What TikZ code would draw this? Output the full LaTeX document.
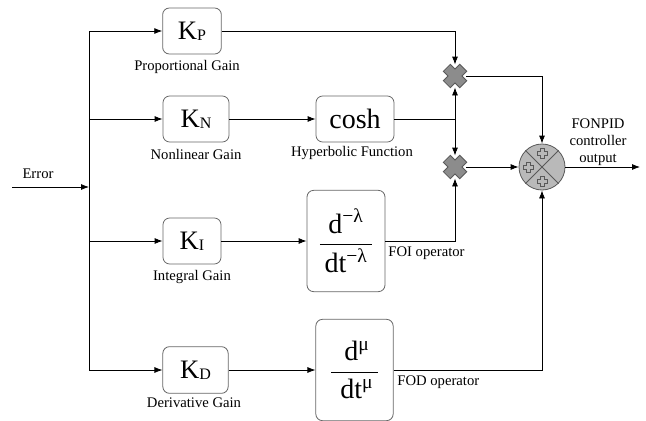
\documentclass[tikz,border=0pt]{standalone}
\usepackage{amsmath}
\usepackage{fontspec}
\setmainfont{Liberation Serif}
\usetikzlibrary{arrows.meta, calc, positioning}
\definecolor{boxGray}{gray}{0.4}
\definecolor{mulGray}{gray}{0.55}
\definecolor{mulEdge}{gray}{0.35}
\newcommand{\gainK}[1]{{\fontsize{20}{22}\selectfont K}{\fontsize{12}{12}\selectfont\raisebox{-1pt}{#1}}}
\newcommand{\opfrac}[2]{$\dfrac{\text{\,#1\,}}{\text{\,#2\,}}$}

\begin{document}
\begin{tikzpicture}[x=0.75pt, y=-0.75pt, >={Latex[length=6pt,width=4.5pt]}, line width=0.6pt,
    gain/.style={draw=boxGray, rounded corners=5pt, minimum height=34.5pt, inner sep=0pt},
    lbl/.style={font=\fontsize{11}{12}\selectfont, inner sep=0pt}]
    \useasboundingbox (0,0) rectangle (646,421);

    % gain blocks
    \node[gain, minimum width=44pt] (kp) at (192,31) {\gainK{P}};
    \node[gain, minimum width=49.5pt] (kn) at (196,119) {\gainK{N}};
    \node[gain, minimum width=58.5pt, font=\fontsize{21}{23}\selectfont] (cosh) at (355,119) {cosh};
    \node[gain, minimum width=43.5pt] (ki) at (192,241) {\gainK{I}};
    \node[gain, minimum width=58.5pt, minimum height=76pt, font=\fontsize{21}{23}\selectfont] (foi) at (346,241)
        {\opfrac{d\textsuperscript{−λ}}{dt\textsuperscript{−λ}}};
    \node[gain, minimum width=49pt, minimum height=35pt] (kd) at (195.5,370) {\gainK{D}};
    \node[gain, minimum width=58pt, minimum height=76pt, font=\fontsize{21}{23}\selectfont] (fod) at (354.5,370)
        {\opfrac{\,d\textsuperscript{μ}}{\,dt\textsuperscript{μ}}};

    % captions
    \node[lbl] (kplbl) at (187,67) {Proportional Gain};
    \node[lbl] (knlbl) at (196,154) {Nonlinear Gain};
    \node[lbl] (coshlbl) at (352,153) {Hyperbolic Function};
    \node[lbl] (kilbl) at (192,277) {Integral Gain};
    \node[lbl, anchor=west] (foilbl) at (388,253) {FOI operator};
    \node[lbl] (kdlbl) at (194,403) {Derivative Gain};
    \node[lbl, anchor=west] (fodlbl) at (397,382) {FOD operator};
    \node[lbl] (errlbl) at (38,174) {Error};
    \node[lbl, align=center, font=\fontsize{11}{12.8}\selectfont] (outlbl) at (598,142) {FONPID\\controller\\output};

    % multipliers and summing junction
    \node[circle, minimum size=16.5pt, inner sep=0pt] (m1) at (455,76) {};
    \node[circle, minimum size=16.5pt, inner sep=0pt] (m2) at (455,167) {};
    \foreach \m in {m1,m2} {
        \draw[line width=8pt, mulEdge] ($(\m)+(-8.5,-8.5)$) -- ($(\m)+(8.5,8.5)$);
        \draw[line width=8pt, mulEdge] ($(\m)+(-8.5,8.5)$) -- ($(\m)+(8.5,-8.5)$);
        \draw[line width=6.5pt, mulGray] ($(\m)+(-7.8,-7.8)$) -- ($(\m)+(7.8,7.8)$);
        \draw[line width=6.5pt, mulGray] ($(\m)+(-7.8,7.8)$) -- ($(\m)+(7.8,-7.8)$);
    }
    \node[circle, draw=mulEdge, fill=gray!55, minimum size=34.5pt, inner sep=0pt] (sum) at (542,167) {};
    \draw[mulEdge] (sum.north west) -- (sum.south east);
    \draw[mulEdge] (sum.south west) -- (sum.north east);
    \foreach \a in {90,180,270}
        \draw[mulEdge, line width=0.5pt, shift={($(sum.center)+(\a:14)$)}]
            (-2,-5) -- (2,-5) -- (2,-2) -- (5,-2) -- (5,2) -- (2,2) -- (2,5)
            -- (-2,5) -- (-2,2) -- (-5,2) -- (-5,-2) -- (-2,-2) -- cycle;

    % signal lines
    \coordinate (err) at (12,187);
    \coordinate (bustop) at (89,31);
    \coordinate (busbot) at (89,370);
    \coordinate (out) at (640,167);
    \draw (bustop) -- (busbot);
    \draw[->] (err) -- (err -| bustop);
    \foreach \b in {kp,kn,ki,kd}
        \draw[->] (bustop |- \b.west) -- (\b.west);
    \draw[->] (kn) -- (cosh);
    \draw[->] (ki) -- (foi);
    \draw[->] (kd) -- (fod);
    \draw[->] (kp.east) -| (m1.north);
    \coordinate (jn) at (m1 |- cosh.east);
    \draw (cosh.east) -- (jn);
    \draw[->] (jn) -- (m1.south);
    \draw[->] (jn) -- (m2.north);
    \draw[->] (foi.east) -| (m2.south);
    \draw[->] (m1.east) -| (sum.north);
    \draw[->] (m2.east) -- (sum.west);
    \draw[->] (fod.east) -| (sum.south);
    \draw[->] (sum.east) -- (out);
\end{tikzpicture}
\end{document}
